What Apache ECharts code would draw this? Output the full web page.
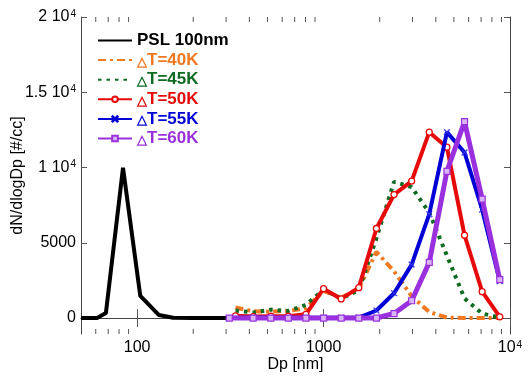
<!DOCTYPE html>
<html><head><meta charset="utf-8">
<script src="https://cdn.jsdelivr.net/npm/echarts@6/dist/echarts.min.js"></script>
<style>html,body{margin:0;padding:0;background:#fff}#c{width:529px;height:378px}</style>
</head><body><div id="c"></div>
<script>
// ---- data ----
var pslX = [50, 61, 68, 84, 104, 131, 156, 200, 302];
var pslY = [0, 0, 330, 9980, 1470, 200, 20, 0, 0];

var binsX = [337, 419, 521, 647, 804, 1000, 1243, 1545, 1921, 2388, 2968, 3690, 4588, 5704, 7091, 8816];
var t40Y = [700, 450, 420, 470, 650, 1800, 1350, 1950, 4400, 3100, 1450, 400, 30, 0, 0, 0];
var t45Y = [500, 370, 560, 470, 870, 1900, 1300, 1850, 5300, 9050, 8700, 7000, 4150, 1300, 300, 30];
var t50Y = [150, 100, 120, 120, 250, 1950, 1270, 2020, 5950, 8200, 9100, 12350, 11350, 5500, 1750, 80];
var t55X = [312, 419, 521, 647, 804, 1000, 1243, 1545, 1921, 2388, 2968, 3690, 4588, 5704, 7091, 8816];
var t55Y = [0, 30, 20, 20, 20, 20, 20, 30, 500, 1650, 3550, 6900, 12350, 11000, 7200, 2450];
var t60X = [312, 419, 521, 647, 804, 1000, 1243, 1545, 1921, 2388, 2968, 3690, 4588, 5704, 7091, 8816];
var t60Y = [0, 0, 0, 0, 0, 0, 0, 0, 0, 300, 1150, 3700, 9750, 13050, 7900, 2550];

var names = ['PSL 100nm', '\u25b3T=40K', '\u25b3T=45K', '\u25b3T=50K', '\u25b3T=55K', '\u25b3T=60K'];
var xMajor = [100, 1000, 10000];
var xMinor = [60, 70, 80, 90, 200, 300, 400, 500, 600, 700, 800, 900, 2000, 3000, 4000, 5000, 6000, 7000, 8000, 9000];
var yTicks = [0, 5000, 10000, 15000, 20000];

function zip(xs, ys) { return xs.map(function (x, i) { return [x, ys[i]]; }); }

var C = { psl: '#000000', o: '#f07820', g: '#0d6b22', r: '#e60a0a', b: '#0000d6', p: '#9a30dd' };
var FONT = '"Liberation Sans", Arial, sans-serif';

function yfmt(v) {
  if (v === 0) return '0';
  if (v === 5000) return '5000';
  if (v === 10000) return '1 10{s|4}';
  if (v === 15000) return '1.5 10{s|4}';
  if (v === 20000) return '2 10{s|4}';
  return '';
}
function xfmt(v) {
  if (Math.abs(v - 100) < 1) return '100';
  if (Math.abs(v - 1000) < 1) return '1000';
  if (Math.abs(v - 10000) < 1) return '10{s|4}';
  return '';
}
var supRich = {
  s: { fontSize: 10, fontFamily: FONT, color: '#000', verticalAlign: 'top', lineHeight: 10, padding: [0, 0, 0, 1] }
};

var chart = echarts.init(document.getElementById('c'), null, { renderer: 'canvas' });

function legendItem(name, color, hideSym) {
  var it = {
    name: name,
    textStyle: {
      color: color,
      rich: { t: { color: color, fontSize: 13, fontFamily: FONT, lineHeight: 17, verticalAlign: 'bottom' } }
    }
  };
  if (hideSym) it.itemStyle = { opacity: 0 };
  return it;
}

var minorSeries = {
  type: 'custom',
  silent: true,
  clip: false,
  xAxisIndex: 0, yAxisIndex: 0,
  data: xMinor.map(function (v) { return [v, 0]; }),
  encode: { x: 0, y: 1 },
  z: 1,
  renderItem: function (params, api) {
    var x = api.coord([api.value(0), 0])[0];
    var cs = params.coordSys;
    var yb = cs.y + cs.height, yt = cs.y;
    var st = { stroke: '#555', lineWidth: 1 };
    return {
      type: 'group',
      children: [
        { type: 'line', shape: { x1: x, y1: yb, x2: x, y2: yb - 5 }, style: st },
        { type: 'line', shape: { x1: x, y1: yt, x2: x, y2: yt + 5 }, style: st }
      ]
    };
  }
};

var axisLineStyle = { color: '#444', width: 1 };

var option = {
  animation: false,
  backgroundColor: '#fff',
  grid: { left: 81, top: 17, right: 19, bottom: 44, containLabel: false, outerBoundsMode: 'none' },
  legend: {
    left: 92, top: 27, orient: 'vertical',
    itemWidth: 34, itemHeight: 7, itemGap: 2.6,
    textStyle: { fontSize: 17, fontWeight: 'bold', fontFamily: FONT, lineHeight: 17 },
    formatter: function (n) { return n.replace('\u25b3', '{t|\u25b3}'); },
    data: [
      legendItem(names[0], '#000', true),
      legendItem(names[1], C.o, true),
      legendItem(names[2], C.g, true),
      legendItem(names[3], C.r),
      legendItem(names[4], C.b),
      legendItem(names[5], C.p)
    ]
  },
  xAxis: [{
    type: 'log', logBase: 10, min: 50, max: 10000,
    name: 'Dp [nm]', nameLocation: 'middle', nameGap: 23, nameMoveOverlap: false,
    nameTextStyle: { fontSize: 16, fontFamily: FONT, color: '#000' },
    axisLine: { lineStyle: axisLineStyle },
    axisTick: { inside: true, length: 9, customValues: xMajor, lineStyle: { color: '#555' } },
    axisLabel: { customValues: xMajor, formatter: xfmt, fontSize: 16, fontFamily: FONT, color: '#000', margin: 6, rich: supRich },
    splitLine: { show: false }, minorTick: { show: false }
  }, {
    type: 'log', logBase: 10, min: 50, max: 10000, position: 'top',
    axisLine: { lineStyle: axisLineStyle },
    axisTick: { inside: true, length: 9, customValues: xMajor, lineStyle: { color: '#555' } },
    axisLabel: { show: false }, splitLine: { show: false }
  }],
  yAxis: [{
    type: 'value', min: -1060, max: 20000,
    name: 'dN/dlogDp [#/cc]', nameLocation: 'middle', nameGap: 55, nameRotate: 90, nameMoveOverlap: false,
    nameTextStyle: { fontSize: 16, fontFamily: FONT, color: '#000' },
    axisLine: { show: true, lineStyle: axisLineStyle },
    axisTick: { show: true, inside: true, length: 6, customValues: yTicks, lineStyle: { color: '#555' } },
    axisLabel: { customValues: yTicks, formatter: yfmt, fontSize: 16, fontFamily: FONT, color: '#000', margin: 5, rich: supRich },
    splitLine: { show: false }
  }, {
    type: 'value', min: -1060, max: 20000, position: 'right',
    axisLine: { show: true, lineStyle: axisLineStyle },
    axisTick: { show: true, inside: true, length: 6, customValues: yTicks, lineStyle: { color: '#555' } },
    axisLabel: { show: false }, splitLine: { show: false }
  }],
  series: [
    {
      name: names[0], type: 'line', data: zip(pslX, pslY), symbol: 'none',
      lineStyle: { color: C.psl, width: 4 }, itemStyle: { color: C.psl }, z: 2
    },
    {
      name: names[1], type: 'line', data: zip(binsX, t40Y), symbol: 'none',
      lineStyle: { color: C.o, width: 4, type: [8, 4, 3, 4] }, itemStyle: { color: C.o }, z: 3
    },
    {
      name: names[2], type: 'line', data: zip(binsX, t45Y), symbol: 'none',
      lineStyle: { color: C.g, width: 4, type: [3.5, 5] }, itemStyle: { color: C.g }, z: 4
    },
    {
      name: names[3], type: 'line', data: zip(binsX, t50Y), symbol: 'circle', symbolSize: 6,
      lineStyle: { color: C.r, width: 4 }, itemStyle: { color: '#fff', borderColor: C.r, borderWidth: 1.3 }, z: 5
    },
    {
      name: names[4], type: 'line', data: zip(t55X, t55Y),
      symbol: 'path://M0,1L1,0L5,4L9,0L10,1L6,5L10,9L9,10L5,6L1,10L0,9L4,5Z', symbolSize: 6,
      lineStyle: { color: C.b, width: 4 }, itemStyle: { color: '#5a5aff', borderColor: C.b, borderWidth: 0.5 }, z: 6
    },
    {
      name: names[5], type: 'line', data: zip(t60X, t60Y), symbol: 'rect', symbolSize: 6,
      lineStyle: { color: C.p, width: 5 }, itemStyle: { color: '#d8b4f8', borderColor: C.p, borderWidth: 1.2 }, z: 7
    },
    minorSeries
  ]
};
chart.setOption(option);
</script>
</body></html>
